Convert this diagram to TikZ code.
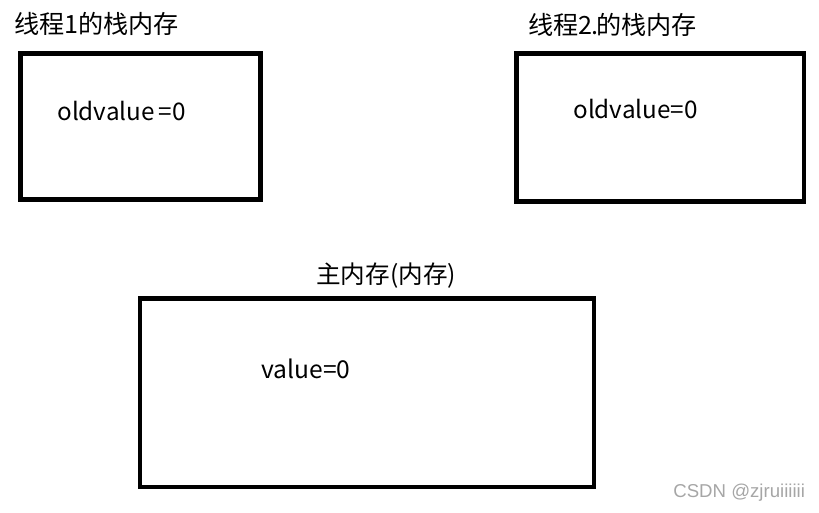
\documentclass[tikz,border=0pt]{standalone}
\usepackage{fontspec}
\setmainfont{Noto Sans CJK SC}
\newfontfamily\markfont{Liberation Sans}
\usetikzlibrary{positioning}

\tikzset{
  membox/.style={line width=2.8pt},
  title/.style={anchor=base west, inner sep=0pt, font=\fontsize{14.3}{17}\selectfont},
  var/.style={anchor=base west, inner sep=0pt, font=\fontsize{13.8}{17}\selectfont},
}

\begin{document}
\begin{tikzpicture}[x=0.02cm, y=-0.02cm]
\useasboundingbox (0,0) rectangle (819,513);

%boxes
\draw[membox] (20.5,53.5) rectangle (260.5,199.5);
\draw[membox] (516.5,53.5) rectangle (804,201.5);
\draw[membox] (140,298.5) rectangle (594,487);

%labels
\node[title] (t1) at (14,34) {线程1的栈内存};
\node[title] (t2) at (528,34.5) {线程2\kern-0.03em.\kern-0.1em的栈内存};
\node[title, font=\fontsize{14}{16}\selectfont] (main) at (316,284) {主内存(内存)};

%values
\node[var] (old1) at (57,120.7) {oldvalue\,=0};
\node[var] (old2) at (573,118.3) {oldvalue=0};
\node[var, font=\fontsize{14}{17}\selectfont] (val) at (261,378.3) {value=0};

\node[anchor=base west, inner sep=0pt, text=black!35, font=\markfont\fontsize{10.6}{12}\selectfont] (mark) at (673,498) {CSDN @zjruiiiiii};

\end{tikzpicture}
\end{document}
